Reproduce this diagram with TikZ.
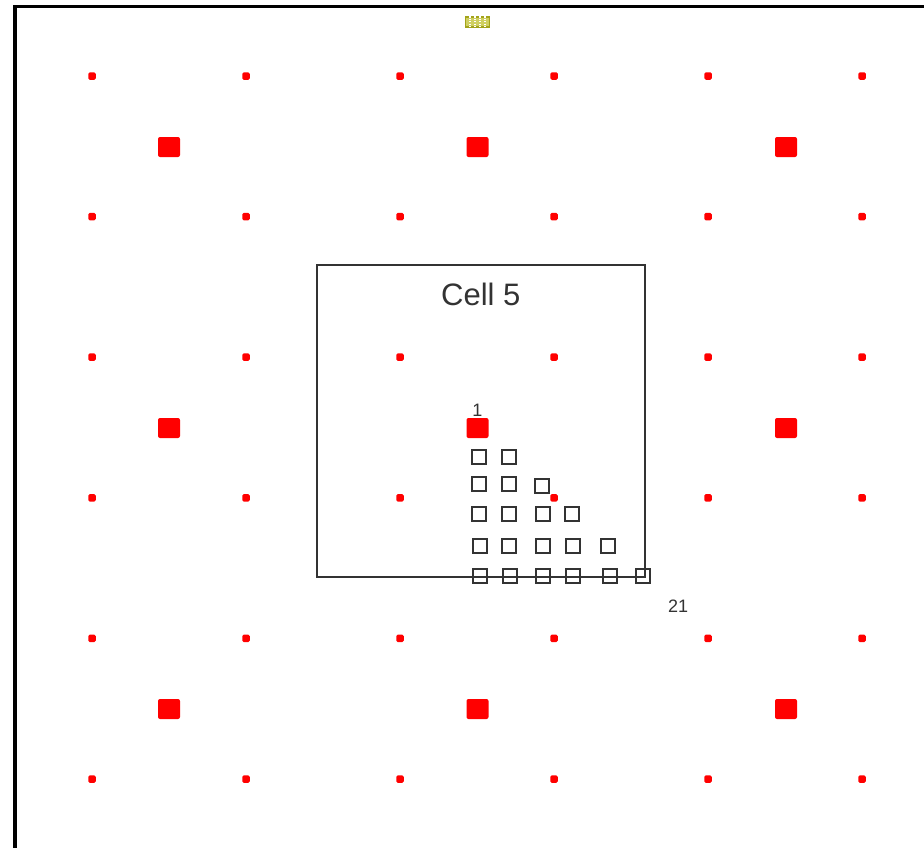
\documentclass[tikz,border=0pt]{standalone}
\usepackage{fontspec}
\setmainfont{Liberation Sans}
\usetikzlibrary{positioning}
\definecolor{CellInk}{HTML}{333333}
\definecolor{SiteRed}{HTML}{FF0000}
\definecolor{TagOlive}{HTML}{A3A31A}
\definecolor{TagFill}{HTML}{CFCF60}

\begin{document}
\begin{tikzpicture}[x=1pt,y=-1pt,
    sample/.style={draw=CellInk,line width=1.8pt,minimum size=14pt,inner sep=0pt},
    bigsite/.style={fill=SiteRed,rounded corners=2pt,minimum width=22pt,minimum height=20pt,inner sep=0pt},
    dotsite/.style={fill=SiteRed,rounded corners=1.5pt,minimum size=7.5pt,inner sep=0pt},
    lbl/.style={text=CellInk,font=\fontsize{18}{20}\selectfont,inner sep=0pt}]
    \useasboundingbox (0,0) rectangle (924,847);
    \fill[white] (0,0) rectangle (924,847);
    % outer frame
    \draw[black,line width=3.2pt] (930,6.5) -- (15,6.5) -- (15,852);
    % marker at top
    \node[draw=TagOlive,fill=TagFill,line width=1.2pt,minimum width=24pt,minimum height=10pt,inner sep=0pt] (tag) at (477.5,22) {};
    \foreach \k in {-7.5,-2.5,2.5,7.5}
      \draw[white,line width=1.2pt,dash pattern=on 1.2pt off 1.2pt] ([xshift=\k]tag.north) -- ([xshift=\k]tag.south);
    % small sites
    \foreach \i in {0,...,5}
      \foreach \j in {0,...,5}
        \node[dotsite] (dot-\i-\j) at (92+154*\i,76+140.6*\j) {};
    % large sites
    \foreach \i in {0,1,2}
      \foreach \j in {0,1,2}
        \node[bigsite] (big-\i-\j) at (169+308.5*\i,147+281*\j) {};
    % cell
    \node[draw=CellInk,line width=1.6pt,minimum width=328pt,minimum height=312pt,inner sep=0pt,anchor=north west] (cell) at (316,264) {};
    \node[text=CellInk,font=\fontsize{31}{36}\selectfont,below=19pt of cell.north,inner sep=0pt] (title) {Cell 5};
    % samples
    \foreach \x/\y [count=\n from 2] in {479/457,509/457,
        479/484,509/484,542/486,
        479/514,509/514,543/514,572/514,
        480/546,509/546,543/546,573/546,608/546,
        480/576,510/576,543/576,573/576,610/576,643/576}
      \node[sample] (sq\n) at (\x,\y) {};
    \node[lbl,above=1.5pt of big-1-1] (first) {1};
    \node[lbl,below right=16pt and 17pt of sq21] (last) {21};
\end{tikzpicture}
\end{document}
